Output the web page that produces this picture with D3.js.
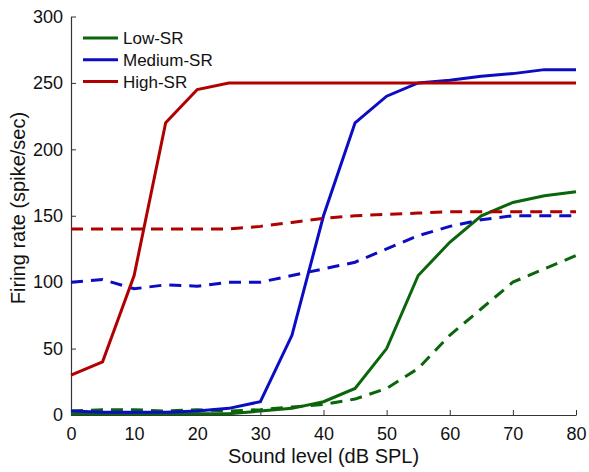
<!DOCTYPE html>
<html>
<head>
<meta charset="utf-8">
<script src="https://cdn.jsdelivr.net/npm/d3@7"></script>
<style>
  body { margin: 0; background: #fff; }
  svg { display: block; font-family: "Liberation Sans", Arial, sans-serif; }
</style>
</head>
<body>
<svg id="chart" width="589" height="472"></svg>
<script>
// sound level (dB SPL)
const levels = [0, 5, 10, 15, 20, 25, 30, 35, 40, 45, 50, 55, 60, 65, 70, 75, 80];

// firing rates (spike/sec), solid and dashed curves per fibre type
const lowSolid  = [1, 1, 1, 1, 1, 1, 3, 5, 10, 20, 50, 105, 130, 150, 160, 165, 168];
const lowDashed = [3, 4, 4, 3, 4, 3, 4, 6, 8, 12, 20, 35, 60, 80, 100, 110, 120];
const medSolid  = [3, 2, 2, 2, 3, 5, 10, 60, 150, 220, 240, 250, 252, 255, 257, 260, 260];
const medDashed = [100, 102, 95, 98, 97, 100, 100, 105, 110, 115, 125, 135, 142, 147, 150, 150, 150];
const highSolid  = [30, 40, 105, 220, 245, 250, 250, 250, 250, 250, 250, 250, 250, 250, 250, 250, 250];
const highDashed = [140, 140, 140, 140, 140, 140, 142, 145, 148, 150, 151, 152, 153, 153, 153, 153, 153];

const xTicks = [0, 10, 20, 30, 40, 50, 60, 70, 80];
const yTicks = [0, 50, 100, 150, 200, 250, 300];

const legendNames = ["Low-SR", "Medium-SR", "High-SR"];
const colors = ["#0b650b", "#0c0cc2", "#b00000"];

const svg = d3.select("#chart");
const width = 589, height = 472;
const margin = {top: 16.5, right: 13, bottom: 57, left: 71};

const x = d3.scaleLinear().domain([0, 80]).range([margin.left, width - margin.right]);
const y = d3.scaleLinear().domain([0, 300]).range([height - margin.bottom, margin.top]);

const series = [
    {values: lowSolid, color: colors[0], dashed: false},
    {values: lowDashed, color: colors[0], dashed: true},
    {values: medSolid, color: colors[1], dashed: false},
    {values: medDashed, color: colors[1], dashed: true},
    {values: highSolid, color: colors[2], dashed: false},
    {values: highDashed, color: colors[2], dashed: true}
];

const line = d3.line()
    .x((d, i) => x(levels[i]))
    .y(d => y(d));

// axes (MATLAB style, ticks pointing in, no box)
const xAxis = svg.append("g")
    .attr("transform", `translate(0,${y(0)})`)
    .call(d3.axisBottom(x).tickValues(xTicks).tickSizeInner(-5).tickSizeOuter(0).tickPadding(12));

const yAxis = svg.append("g")
    .attr("transform", `translate(${x(0)},0)`)
    .call(d3.axisLeft(y).tickValues(yTicks).tickSizeInner(-5).tickSizeOuter(0).tickPadding(8));

[xAxis, yAxis].forEach(a => {
    a.select(".domain").attr("stroke", "#333").attr("stroke-width", 1.2);
    a.selectAll(".tick line").attr("stroke", "#333");
    a.selectAll(".tick text").attr("font-size", "18px").attr("fill", "#111");
});

svg.append("g").selectAll("path")
    .data(series)
    .enter().append("path")
    .attr("d", d => line(d.values))
    .attr("fill", "none")
    .attr("stroke", d => d.color)
    .attr("stroke-width", 3)
    .attr("stroke-dasharray", d => d.dashed ? "12,8" : null);

// legend
const legend = svg.append("g").attr("transform", "translate(83,38)");
legendNames.forEach((name, i) => {
    const row = legend.append("g").attr("transform", `translate(0,${i * 21.8})`);
    row.append("line")
        .attr("x1", 0).attr("x2", 35)
        .attr("stroke", colors[i])
        .attr("stroke-width", 3);
    row.append("text")
        .attr("x", 40)
        .attr("dy", "0.35em")
        .attr("font-size", "17px")
        .attr("fill", "#111")
        .text(name);
});

// axis titles
svg.append("text")
    .attr("x", (x(0) + x(80)) / 2)
    .attr("y", 463)
    .attr("text-anchor", "middle")
    .attr("font-size", "20px")
    .attr("fill", "#111")
    .text("Sound level (dB SPL)");

svg.append("text")
    .attr("transform", "translate(25,208) rotate(-90)")
    .attr("text-anchor", "middle")
    .attr("font-size", "20px")
    .attr("fill", "#111")
    .text("Firing rate (spike/sec)");
</script>
</body>
</html>
